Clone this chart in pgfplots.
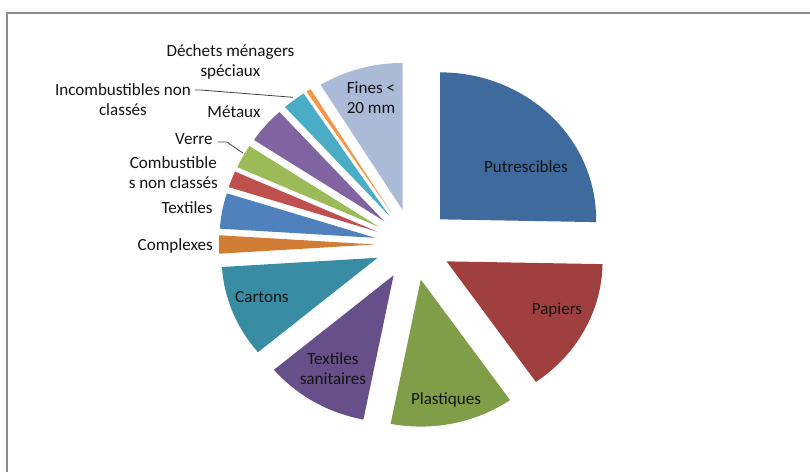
\documentclass[border=0pt]{standalone}
\usepackage{pgfplots}
\pgfplotsset{compat=1.18}
\usepackage{fontspec}
\setmainfont{Carlito}
\definecolor{cPut}{HTML}{3F6A9E}
\definecolor{cPap}{HTML}{A0403E}
\definecolor{cPla}{HTML}{809E48}
\definecolor{cTxs}{HTML}{674F8A}
\definecolor{cCar}{HTML}{388DA5}
\definecolor{cCom}{HTML}{D27D34}
\definecolor{cTex}{HTML}{4F81BD}
\definecolor{cCnc}{HTML}{C0504D}
\definecolor{cVer}{HTML}{9BBB59}
\definecolor{cMet}{HTML}{8064A2}
\definecolor{cInc}{HTML}{4BACC6}
\definecolor{cDms}{HTML}{F79646}
\definecolor{cFin}{HTML}{AABAD7}
\definecolor{txt}{HTML}{141414}
\begin{document}
\begin{tikzpicture}
\begin{axis}[
  x=117pt, y=110.25pt,
  xmin=-2.647, xmax=2.545, ymin=-1.541, ymax=1.663,
  hide axis,
  clip=true,
]
\path (axis cs:-2.647,-1.541) rectangle (axis cs:2.545,1.663);
\draw[color=gray!90, line width=1.1pt] (axis cs:-2.603,-3) -- (axis cs:-2.603,1.575) -- (axis cs:3,1.575);
\pgfplotsextra{
  \gdef\cumang{90}
  \foreach \v/\col in {25.3/cPut, 15.0/cPap, 12.8/cPla, 10.8/cTxs, 10.1/cCar, 2.0/cCom, 3.9/cTex, 1.8/cCnc, 2.6/cVer, 4.0/cMet, 2.4/cInc, 0.5/cDms, 8.8/cFin} {
    \pgfmathsetmacro\a{\cumang}
    \pgfmathsetmacro\b{\a-3.6*\v}
    \pgfmathsetmacro\m{(\a+\b)/2}
    \pgfmathsetmacro\ox{0.244*cos(\m)}
    \pgfmathsetmacro\oy{0.244*sin(\m)}
    \pgfmathsetmacro\sx{\ox+cos(\a)}
    \pgfmathsetmacro\sy{\oy+sin(\a)}
    \fill[\col] (axis cs:\ox,\oy) -- (axis cs:\sx,\sy) arc[start angle=\a, end angle=\b, x radius=117pt, y radius=110.25pt] -- cycle;
    \xdef\cumang{\b}
  }
}
\begin{scope}[every node/.style={font=\fontsize{12.8}{15}\selectfont, text=txt, inner sep=0pt}]
\node at (axis cs:0.724,0.527) {Putrescibles};
\node at (axis cs:0.923,-0.446) {Papiers};
\node at (axis cs:0.212,-1.058) {Plastiques};
\node[align=center] at (axis cs:-0.513,-0.847) {Textiles\\sanitaires};
\node at (axis cs:-0.968,-0.357) {Cartons};
\node[anchor=east] at (axis cs:-1.282,-0.010) {Complexes};
\node[anchor=east] at (axis cs:-1.282,0.248) {Textiles};
\node[align=center] at (axis cs:-1.536,0.486) {Combustible\\s non classés};
\node[anchor=east] at (axis cs:-1.282,0.718) {Verre};
\node at (axis cs:-1.147,0.901) {Métaux};
\node[align=center] at (axis cs:-1.859,0.986) {Incombustibles non\\classés};
\node[align=center] at (axis cs:-1.170,1.241) {Déchets ménagers\\spéciaux};
\node[align=center] at (axis cs:-0.269,0.997) {Fines <\\20 mm};
\end{scope}
\draw[color=black!75, line width=0.6pt] (axis cs:-1.25,0.697) -- (axis cs:-1.192,0.697) -- (axis cs:-1.09,0.622);
\draw[color=black!75, line width=0.6pt] (axis cs:-1.397,1.051) -- (axis cs:-1.365,1.051) -- (axis cs:-0.769,1.001);
\end{axis}
\end{tikzpicture}
\end{document}
